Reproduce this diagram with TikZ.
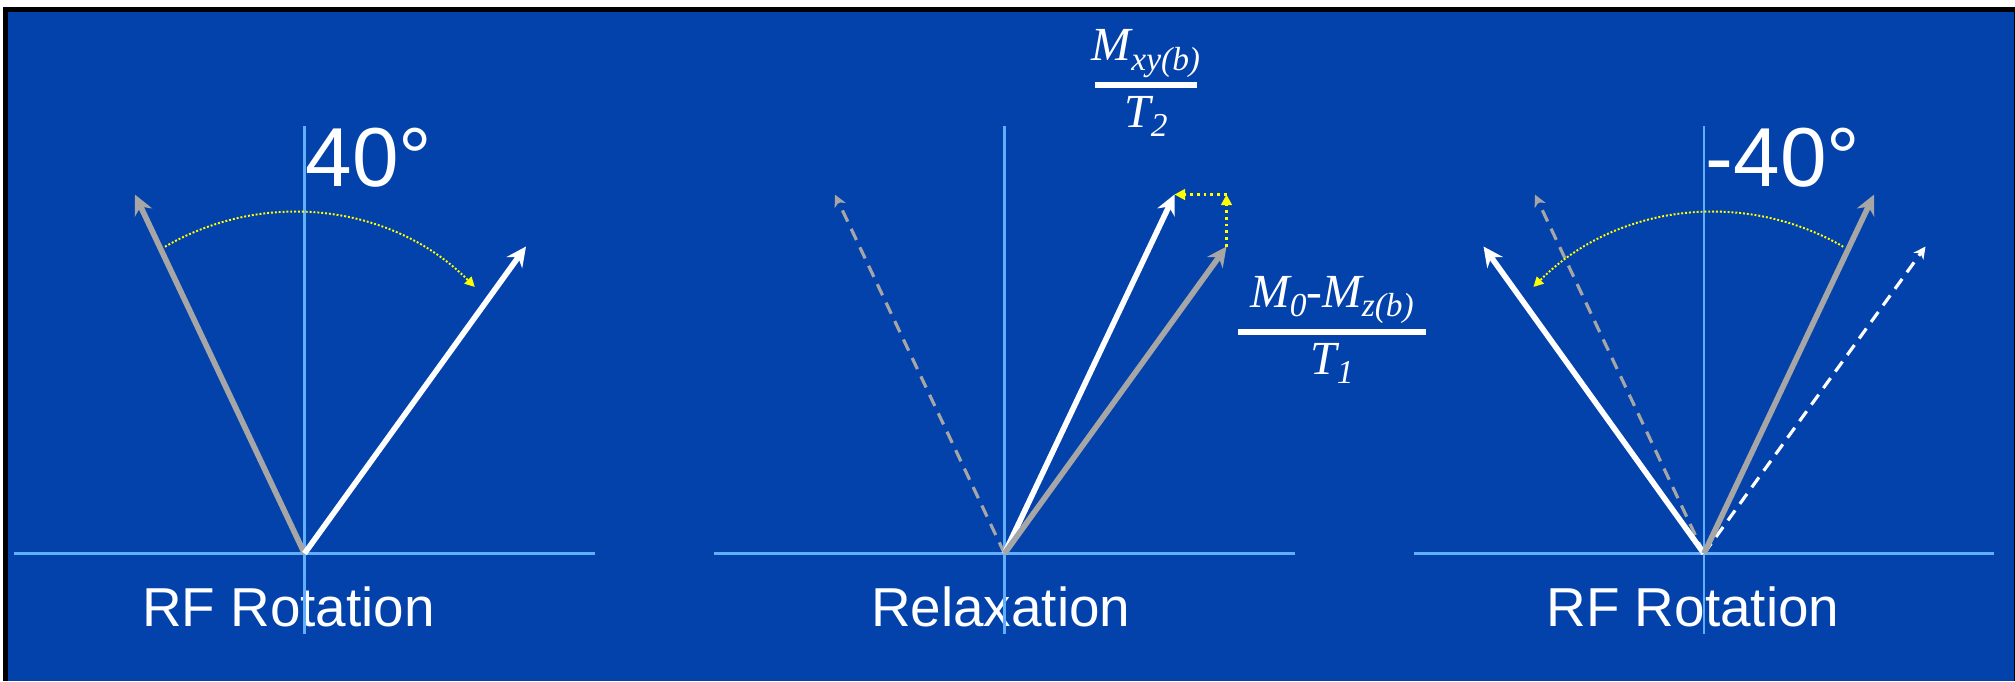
\documentclass[tikz,border=0pt]{standalone}
\usepackage{fontspec}
\setmainfont{Liberation Sans}
\newfontfamily\tms{Liberation Serif}
\usetikzlibrary{arrows.meta, positioning}

\definecolor{sfondo}{RGB}{3,66,170}
\definecolor{assi}{RGB}{95,175,250}
\definecolor{grigio}{RGB}{166,166,166}
\definecolor{giallo}{RGB}{255,255,0}

\newcommand{\pedice}[1]{\raisebox{-2.7pt}{\fontsize{9.5}{10}\selectfont #1}}

\begin{document}
\begin{tikzpicture}[x=0.01cm, y=-0.01cm,
			% Stile degli assi
			asse/.style={draw=assi, line width=0.6pt},
			% Stile dei vettori pieni e tratteggiati
			vett/.style={-{Stealth[length=5.6pt, width=5.4pt, inset=1.8pt]}, line width=1.6pt},
			vettdash/.style={-{Stealth[length=3.4pt, width=3.4pt, inset=1pt]}, line width=0.9pt, dash pattern=on 3.5pt off 2.3pt},
			% Stile delle frecce gialle
			rotaz/.style={giallo, -{Triangle[length=2.8pt, width=2.8pt]}, line width=0.55pt, dash pattern=on 0.55pt off 0.55pt},
			rilass/.style={giallo, -{Triangle[length=3pt, width=3pt]}, line width=0.8pt, dash pattern=on 0.8pt off 1.1pt},
			% Stile dei testi
			titolo/.style={text=white, font=\fontsize{15.6}{18}\selectfont, inner sep=0, anchor=base},
			angolo/.style={text=white, font=\fontsize{23.8}{28}\selectfont, inner sep=0, anchor=base west},
			frazione/.style={text=white, font=\tms\itshape\fontsize{13.5}{16}\selectfont, inner sep=0},
			barra/.style={fill=white, inner sep=0, minimum height=1.7pt, minimum width=#1}
			]
			
			\useasboundingbox (0,0) rectangle (2015,681);
			\fill[white] (0,0) rectangle (2015,681);
			\fill[black] (3,7) rectangle (2015,681);
			\fill[sfondo] (8,12) rectangle (2014,681);
			
			% --- PRIMO GRAFICO (Rotazione RF) ---
			\node[angolo] (ang1) at (305,186) {40°};
			\node[titolo] (tit1) at (288.5,626.7) {RF Rotation};
			\draw[asse] (14,553.5) -- (595,553.5);
			\draw[asse] (304.5,126) -- (304.5,634);
			
			\coordinate (o1) at (304.5,553.5);
			\coordinate (g1) at (135,194.6);
			\coordinate (w1) at (526,246.5);
			\draw[vett, grigio] (o1) -- (g1);
			\draw[vett, white] (o1) -- (w1);
			\draw[rotaz] (165,246.7) arc[start angle=-120.2, end angle=-45, radius=256];
			
			% --- SECONDO GRAFICO (Rilassamento) ---
			\node[titolo] (tit2) at (1000.7,626.7) {Relaxation};
			\draw[asse] (714,553.5) -- (1295,553.5);
			\draw[asse] (1004.5,126) -- (1004.5,634);
			
			\coordinate (o2) at (1004.5,553.5);
			\coordinate (gd2) at (835,194.6);
			\coordinate (w2) at (1174.5,194.5);
			\coordinate (g2) at (1226.5,246.5);
			\coordinate (c2) at (g2 |- w2);
			\draw[vettdash, grigio] (o2) -- (gd2);
			\draw[vett, white] (o2) -- (w2);
			\draw[vett, grigio] (o2) -- (g2);
			\draw[rilass] (g2) -- (c2);
			\draw[rilass] (c2) -- (w2);
			
			% frazioni
			\node[barra=28.9pt] (bar1) at (1146,85.3) {};
			\node[frazione, above=1pt of bar1] (num1) {M\pedice{xy(b)}};
			\node[frazione, below=1.9pt of bar1] (den1) {T\pedice{2}};
			
			\node[barra=53.5pt] (bar2) at (1332,332) {};
			\node[frazione, above=1pt of bar2] (num2) {M\pedice{0}-M\pedice{z(b)}};
			\node[frazione, below=1.9pt of bar2] (den2) {T\pedice{1}};
			
			% --- TERZO GRAFICO (Rotazione RF inversa) ---
			\node[angolo] (ang3) at (1705,186) {-40°};
			\node[titolo] (tit3) at (1693,626.7) {RF Rotation};
			\draw[asse] (1414.4,553.5) -- (1994.4,553.5);
			\draw[asse] (1704,126) -- (1704,634);
			
			\coordinate (o3) at (1704,553.5);
			\coordinate (w3) at (1483.5,246.5);
			\coordinate (gd3) at (1535,194.6);
			\coordinate (g3) at (1874,194.6);
			\coordinate (wd3) at (1925.5,246.5);
			\draw[vettdash, grigio] (o3) -- (gd3);
			\draw[vettdash, white] (o3) -- (wd3);
			\draw[vett, white] (o3) -- (w3);
			\draw[vett, grigio] (o3) -- (g3);
			\draw[rotaz] (1843.2,246.7) arc[start angle=-59.8, end angle=-135, radius=256];
			
		\end{tikzpicture}
\end{document}
